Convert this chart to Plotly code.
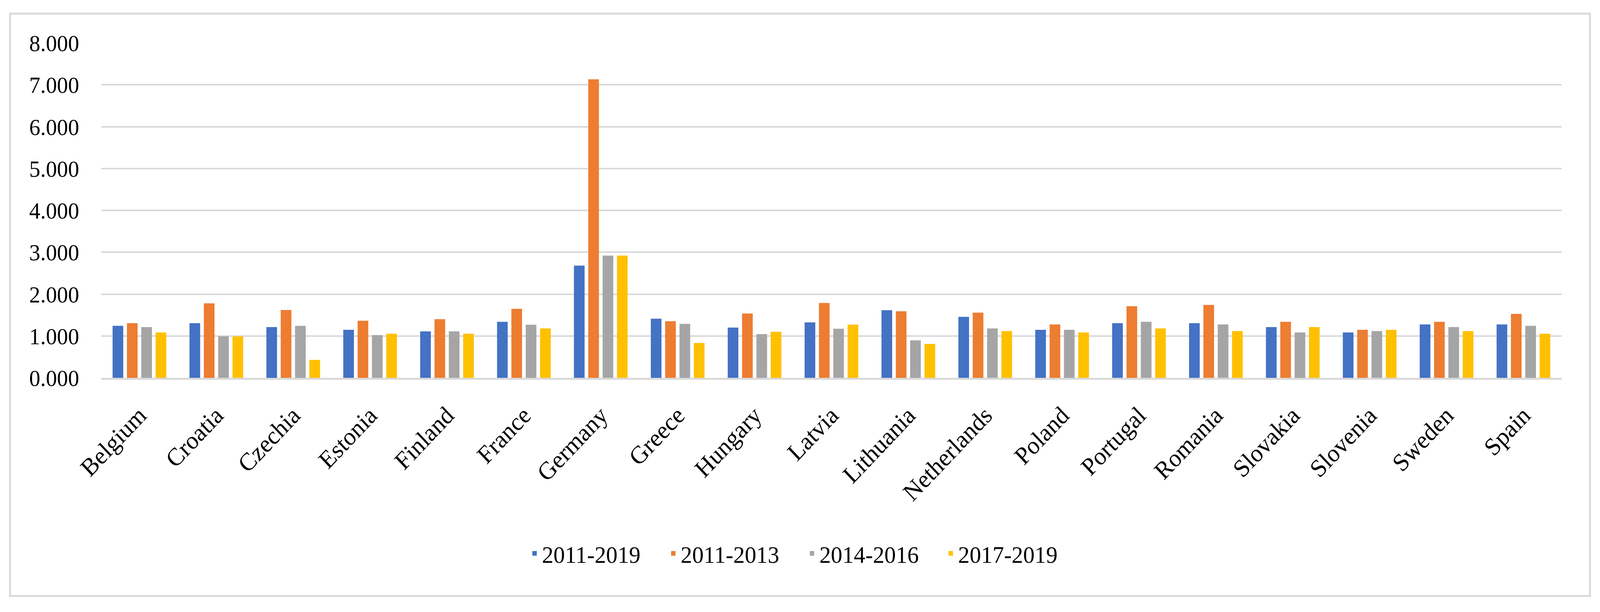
import plotly.graph_objects as go

countries = ["Belgium", "Croatia", "Czechia", "Estonia", "Finland", "France", "Germany",
             "Greece", "Hungary", "Latvia", "Lithuania", "Netherlands", "Poland", "Portugal",
             "Romania", "Slovakia", "Slovenia", "Sweden", "Spain"]

s_2011_2019 = [1.243, 1.306, 1.211, 1.148, 1.110, 1.338, 2.680, 1.413, 1.201, 1.324,
               1.615, 1.457, 1.148, 1.306, 1.306, 1.211, 1.085, 1.274, 1.274]
s_2011_2013 = [1.306, 1.779, 1.621, 1.363, 1.400, 1.647, 7.130, 1.352, 1.536, 1.788,
               1.590, 1.558, 1.274, 1.710, 1.741, 1.338, 1.148, 1.338, 1.527]
s_2014_2016 = [1.211, 0.990, 1.243, 1.022, 1.110, 1.268, 2.920, 1.290, 1.045, 1.173,
               0.896, 1.180, 1.148, 1.338, 1.274, 1.085, 1.117, 1.211, 1.243]
s_2017_2019 = [1.085, 0.990, 0.429, 1.054, 1.054, 1.180, 2.920, 0.832, 1.100, 1.270,
               0.808, 1.117, 1.085, 1.180, 1.117, 1.211, 1.148, 1.117, 1.054]

series = [
    ("2011-2019", s_2011_2019, "#4472C4"),
    ("2011-2013", s_2011_2013, "#ED7D31"),
    ("2014-2016", s_2014_2016, "#A5A5A5"),
    ("2017-2019", s_2017_2019, "#FFC000"),
]

y_ticks = [0, 1, 2, 3, 4, 5, 6, 7, 8]

fig = go.Figure()
for name, vals, col in series:
    fig.add_trace(go.Bar(x=countries, y=vals, name=name, marker_color=col,
                         marker_line_width=0))

W, H = 4325, 1568
L, R, T, B = 273, 103, 110, 600
pw = W - L - R
ph = H - T - B

def px_x(p):
    return (p - L) / pw

def px_y(p):
    return (H - B - p) / ph

font_family = "Liberation Serif"

fig.update_layout(
    width=W, height=H,
    margin=dict(l=L, r=R, t=T, b=B),
    paper_bgcolor="white", plot_bgcolor="white",
    barmode="group", bargap=0.254, bargroupgap=0.256,
    font=dict(family=font_family, color="#000000", size=60),
    showlegend=True,
    legend=dict(orientation="h", x=px_x(2175), xanchor="center",
                y=px_y(1418), yanchor="middle",
                font=dict(family=font_family, size=62, color="#000000"),
                entrywidth=330, itemwidth=30),
    xaxis=dict(showgrid=False, showline=True, linecolor="#D9D9D9", linewidth=5,
               tickangle=-45, ticks="", tickfont=dict(family=font_family, size=64),
               ticklabelstandoff=28),
    yaxis=dict(range=[0, 8], tickvals=y_ticks, tickformat=".3f",
               showgrid=True, gridcolor="#D9D9D9", gridwidth=4,
               zeroline=False, showline=False, ticks="",
               tickfont=dict(family=font_family, size=60),
               ticklabelstandoff=58),
    shapes=[dict(type="rect", xref="paper", yref="paper",
                 x0=px_x(27), x1=px_x(4298), y0=px_y(1527), y1=px_y(35),
                 line=dict(color="#D9D9D9", width=5), fillcolor="rgba(0,0,0,0)",
                 layer="below")],
)

post = (
    "document.documentElement.style.margin='0';"
    "document.body.style.margin='0';"
    "document.body.style.overflow='hidden';"
    "document.documentElement.style.overflow='hidden';"
    "var gd=document.getElementById('{plot_id}');"
    "var sx=window.innerWidth/4325, sy=window.innerHeight/1568;"
    "gd.style.transformOrigin='0 0';"
    "gd.style.transform='scale('+sx+','+sy+')';"
)

fig.write_html("out.html", post_script=post, config={"displayModeBar": False})
